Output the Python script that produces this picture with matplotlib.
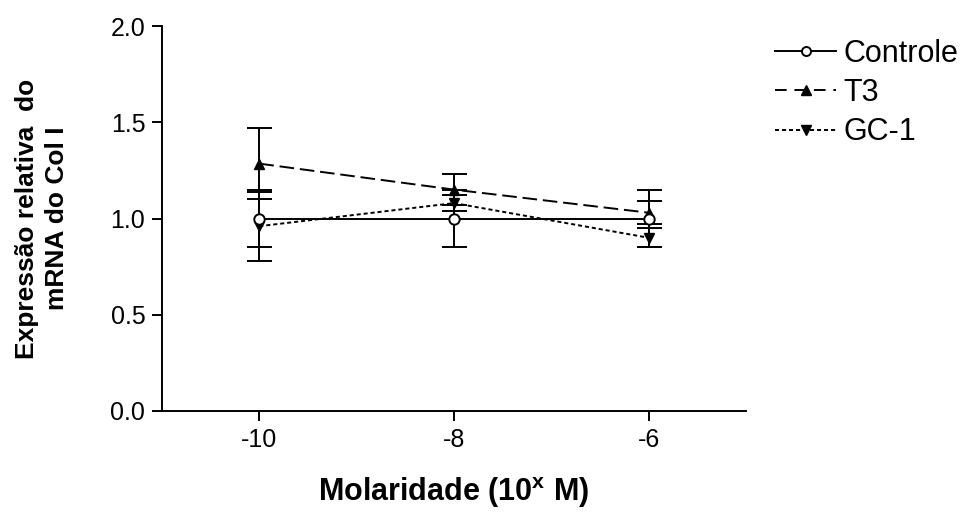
import matplotlib
matplotlib.use("Agg")
import matplotlib.pyplot as plt
from matplotlib.lines import Line2D

plt.rcParams['font.family'] = ['Liberation Sans', 'DejaVu Sans']
plt.rcParams['mathtext.fontset'] = 'custom'
plt.rcParams['mathtext.rm'] = 'Liberation Sans'
plt.rcParams['mathtext.bf'] = 'Liberation Sans:bold'

x = [-10, -8, -6]
controle = [1.00, 1.00, 1.00]
controle_err = [0.15, 0.15, 0.15]
t3 = [1.285, 1.15, 1.03]
t3_err = [0.185, 0.08, 0.06]
gc1 = [0.96, 1.08, 0.90]
gc1_err = [0.18, 0.04, 0.05]

labels = ['Controle', 'T3', 'GC-1']
xticks = [-10, -8, -6]
yticks = [0.0, 0.5, 1.0, 1.5, 2.0]

fig = plt.figure(figsize=(9.61, 5.29), dpi=100)
ax = fig.add_axes([162/961, 1-411/529, (746-162)/961, (411-26)/529])

lw = 1.4
t3_ls = (0, (7.5, 3))
gc_ls = (0, (2.1, 1.5))
common = dict(color='black', lw=lw, elinewidth=lw, capthick=lw, capsize=9)
ax.errorbar(x, controle, yerr=controle_err, fmt='-o', mfc='white', mec='black',
            mew=lw, ms=7.5, zorder=3, **common)
ax.errorbar(x, t3, yerr=t3_err, fmt='^', ls=t3_ls, mfc='black', mec='black',
            ms=7.5, zorder=2, **common)
ax.errorbar(x, gc1, yerr=gc1_err, fmt='v', ls=gc_ls, mfc='black', mec='black',
            ms=7.5, zorder=2, **common)

ax.set_xlim(-11, -5)
ax.set_ylim(0, 2.0)
ax.set_xticks(xticks)
ax.set_xticklabels([str(v) for v in xticks])
ax.set_yticks(yticks)
ax.set_yticklabels([f"{v:.1f}" for v in yticks])
for s in ['top', 'right']:
    ax.spines[s].set_visible(False)
for s in ['left', 'bottom']:
    ax.spines[s].set_linewidth(1.4)
ax.tick_params(axis='both', direction='out', length=7, width=1.4, labelsize=18, pad=5)

ax.set_ylabel("Expressão relativa  do\nmRNA do Col I", fontsize=19, fontweight='bold',
              linespacing=1.3, labelpad=30)
ax.set_xlabel(r"Molaridade (10$^{\mathbf{x}}$ M)", fontsize=22, fontweight='bold', labelpad=17)

handles = [
    Line2D([], [], color='black', lw=lw, marker='o', mfc='white', mec='black', mew=lw, ms=6.5),
    Line2D([], [], color='black', lw=lw, ls=(0, (6, 4)), marker='^', mfc='black', ms=6.5),
    Line2D([], [], color='black', lw=lw, ls=(0, (2.1, 1.5)), marker='v', mfc='black', ms=6.5),
]
leg = fig.legend(handles, labels, loc='upper left', bbox_to_anchor=(775/961, 1-39/529),
                 frameon=False, fontsize=22, handlelength=2.0, handletextpad=0.25,
                 labelspacing=0.3, borderpad=0, borderaxespad=0, numpoints=1)

fig.savefig("out.png", dpi=100)
